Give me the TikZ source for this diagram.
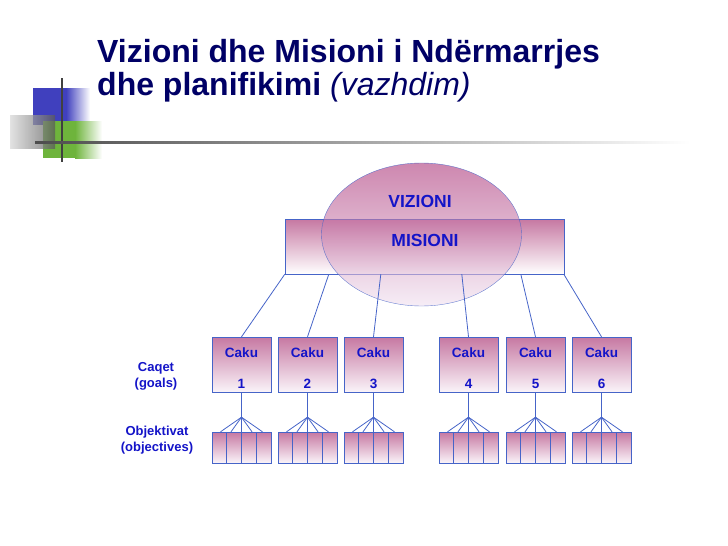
\documentclass[tikz,border=0pt]{standalone}
\usepackage{fontspec}
\setmainfont{Liberation Sans}
\usetikzlibrary{positioning,calc,shapes.geometric}
\definecolor{tNavy}{RGB}{0,0,102}
\definecolor{tBlue}{RGB}{20,20,200}
\definecolor{tLine}{RGB}{70,100,200}
\definecolor{tMauve}{RGB}{198,120,162}
\definecolor{tPale}{RGB}{250,244,249}
\definecolor{eTop}{RGB}{172,55,122}
\definecolor{eBot}{RGB}{240,225,240}
\definecolor{lBlue}{RGB}{64,64,190}
\definecolor{lGreen}{RGB}{110,180,60}
\tikzset{
  ttl/.style={font=\fontsize{32}{34}\selectfont\bfseries, text=tNavy,
              inner sep=0pt, anchor=base west},
  misbox/.style={rectangle, draw=tLine, top color=tMauve, bottom color=white,
                 minimum width=279pt, minimum height=55pt, inner sep=0pt},
  visell/.style={ellipse, draw=tLine, draw opacity=0.8, top color=eTop,
                 bottom color=eBot, fill opacity=0.6,
                 minimum width=200pt, minimum height=143pt, inner sep=0pt},
  goal/.style={rectangle, draw=tLine, top color=tMauve, bottom color=tPale,
               minimum width=59pt, minimum height=55pt, align=center,
               text height=47pt, text depth=0pt,
               font=\fontsize{13.5}{16}\selectfont\bfseries, text=tBlue, inner sep=0pt},
  objgrp/.style={rectangle, draw=tLine, top color=tMauve, bottom color=tPale,
                 minimum width=59pt, minimum height=31pt, inner sep=0pt},
  side/.style={align=center, font=\fontsize{13}{16}\selectfont\bfseries, text=tBlue},
  big/.style={font=\fontsize{17.5}{20}\selectfont\bfseries, text=tBlue},
  link/.style={draw=tLine, line width=0.8pt},
}

\begin{document}
\begin{tikzpicture}[x=1pt,y=-1pt]
  \useasboundingbox (0,0) rectangle (728,546);
  % logo squares and rule
  \fill[lBlue] (33,88) rectangle (66,125);
  \shade[left color=lBlue, right color=white] (66,88) rectangle (90,125);
  \fill[lGreen] (43,121) rectangle (75,158);
  \shade[left color=lGreen, right color=white] (75,121) rectangle (102,158);
  \shade[left color=black!15, right color=black!65, fill opacity=0.75] (10,115) rectangle (55,148);
  \draw[black!75, line width=1.6pt] (62,78) -- (62,162);
  \shade[left color=black!70, right color=white] (35,141.3) rectangle (690,143);
  % title
  \node[ttl] (t1) at (97,62) {Vizioni dhe Misioni i Ndërmarrjes};
  \node[ttl] (t2) at (97,95) {dhe planifikimi \mdseries\itshape(vazhdim)};
  % vision and mission
  \node[misbox] (mis) at (424.5,246.5) {};
  \node[visell] (vis) at (421.5,234.5) {};
  \node[big] (visT) at (420,201) {VIZIONI};
  \node[big] (misT) at (425,240) {MISIONI};
  % goals and objectives
  \foreach \n/\x/\d in {1/241.5/0,2/307.5/44,3/373.5/96,4/468.5/177,5/535.5/236,6/601.5/279}{
    \node[goal] (g\n) at (\x,364.5) {Caku\\[15pt]\n};
    \draw[link] ($(mis.south west)+(\d,0)$) -- (g\n.north);
    \node[objgrp] (o\n) at (\x,447.5) {};
    \foreach \f in {0.25,0.5,0.75}
      \draw[tLine] ($(o\n.north west)!\f!(o\n.north east)$) -- ($(o\n.south west)!\f!(o\n.south east)$);
    \coordinate (a\n) at ($(g\n.south)+(0,25)$);
    \draw[link] (g\n) -- (a\n);
    \foreach \dx in {-21,-10.5,0,10.5,21}
      \draw[link] (a\n) -- ($(o\n.north)+(\dx,0)$);
  }
  \node[side] (cq) at (156,376) {Caqet\\(goals)};
  \node[side] (ob) at (157,440) {Objektivat\\(objectives)};
\end{tikzpicture}
\end{document}
